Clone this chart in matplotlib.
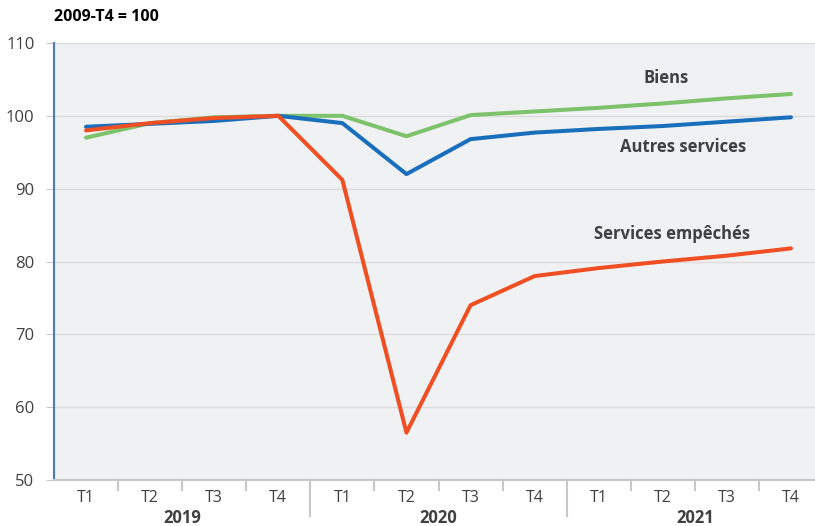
import matplotlib.pyplot as plt

plt.rcParams['font.family'] = ['Open Sans', 'DejaVu Sans']

quarters = ["T1", "T2", "T3", "T4"] * 3
years = ["2019", "2020", "2021"]

biens = [97.0, 99.0, 99.8, 100.0, 100.0, 97.2, 100.1, 100.6, 101.1, 101.7, 102.4, 103.0]
autres = [98.5, 98.9, 99.3, 100.0, 99.0, 92.0, 96.8, 97.7, 98.2, 98.6, 99.2, 99.8]
empeches = [98.0, 99.0, 99.7, 100.0, 91.2, 56.5, 74.0, 78.0, 79.1, 80.0, 80.8, 81.8]

c_green = "#7dc36b"
c_blue = "#1a6fbd"
c_red = "#f04e23"
c_text = "#404040"

fig = plt.figure(figsize=(8.15, 5.26), dpi=100)
ax = fig.add_axes([54 / 815, 1 - 480 / 526, 1 - 54 / 815, 437 / 526])
ax.set_facecolor("#f0f1f3")

x = list(range(len(quarters)))
ax.plot(x, biens, color=c_green, lw=2.9, solid_capstyle="round", zorder=3)
ax.plot(x, autres, color=c_blue, lw=2.9, solid_capstyle="round", zorder=4)
ax.plot(x, empeches, color=c_red, lw=2.9, solid_capstyle="round", zorder=5)

ax.set_ylim(50, 110)
ax.set_xlim(-0.5, 11.375)
ax.set_yticks(range(50, 111, 10))
ax.grid(axis="y", color="#dcdcdc", lw=1)
ax.set_axisbelow(True)

for s in ["top", "right"]:
    ax.spines[s].set_visible(False)
ax.spines["left"].set_color("#4a78c2")
ax.spines["left"].set_linewidth(1.5)
ax.spines["bottom"].set_color("#c8c8c8")
ax.spines["bottom"].set_linewidth(1.5)

ax.tick_params(axis="y", length=6, color="#c8c8c8", labelsize=12, labelcolor=c_text, pad=8)
ax.set_xticks(x)
ax.set_xticklabels(quarters)
ax.tick_params(axis="x", length=0, labelsize=11.5, labelcolor=c_text, pad=7)

# separators under the axis: short between quarters, long between years
trans = ax.get_xaxis_transform()
for b in range(1, 12):
    pos = b - 0.5
    depth = 36 if b % 4 == 0 else 10
    ax.plot([pos, pos], [0, -depth / 437], transform=trans, color="#c8c8c8",
            lw=1.5, clip_on=False)

for i, yr in enumerate(years):
    ax.text(i * 4 + 1.5, -38 / 437, yr, transform=trans, ha="center", va="center",
            fontsize=12, fontweight="bold", color=c_text)

ax.text(9.05, 105.2, "Biens", ha="center", va="center", fontsize=12,
        fontweight="bold", color=c_text)
ax.text(9.31, 95.7, "Autres services", ha="center", va="center", fontsize=12,
        fontweight="bold", color=c_text)
ax.text(9.14, 83.8, "Services empêchés", ha="center", va="center", fontsize=12,
        fontweight="bold", color=c_text)

fig.text(54 / 815, 1 - 17 / 526, "2009-T4 = 100", ha="left", va="center",
         fontsize=11.5, fontweight="bold", color="black")

fig.savefig("out.png", dpi=100)
